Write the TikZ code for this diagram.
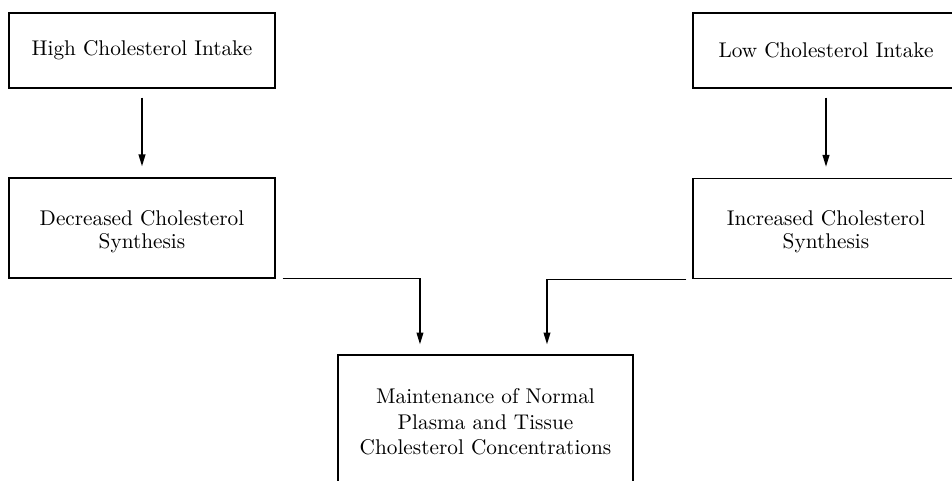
\documentclass[tikz,border=0pt]{standalone}
\usetikzlibrary{arrows.meta}
\begin{document}
\begin{tikzpicture}[x=0.47pt,y=-0.47pt,
        box/.style={draw, line width=0.7pt, align=center, inner sep=0pt},
        arr/.style={-{Triangle[length=5.5pt,width=3.2pt]}, line width=0.6pt}]
        % frame
        \useasboundingbox (0,0) rectangle (952,480);
        \clip (0,0) rectangle (952,480);

        % intake
        \node[box, minimum width=125pt, minimum height=35.3pt] (high) at (142,50.5) {High Cholesterol Intake};
        \node[box, minimum width=125pt, minimum height=35.3pt] (low) at (826,50.5) {Low Cholesterol Intake};

        % synthesis
        \node[box, minimum width=125pt, minimum height=47pt] (dec) at (142,228) {\rule{0pt}{10.3pt}Decreased Cholesterol\\[-1pt] Synthesis};
        \node[box, minimum width=125pt, minimum height=47pt] (inc) at (826,228.5) {\rule{0pt}{10.3pt}Increased Cholesterol\\[-1pt] Synthesis};

        % result
        \node[box, minimum width=138.7pt, minimum height=63pt] (main) at (485.5,422) {Maintenance of Normal\\ Plasma and Tissue\\ Cholesterol Concentrations};

        % arrows
        \draw[arr, shorten <=4.2pt, shorten >=5.2pt] (high) -- (dec);
        \draw[arr, shorten <=4.2pt, shorten >=5.2pt] (low) -- (inc);
        \draw[arr] ([xshift=3.3pt]dec.south east) -| ([xshift=-30.8pt, yshift=4.7pt]main.north);
        \draw[arr] ([xshift=-2.8pt]inc.south west) -| ([xshift=28.9pt, yshift=4.7pt]main.north);
    \end{tikzpicture}
\end{document}
